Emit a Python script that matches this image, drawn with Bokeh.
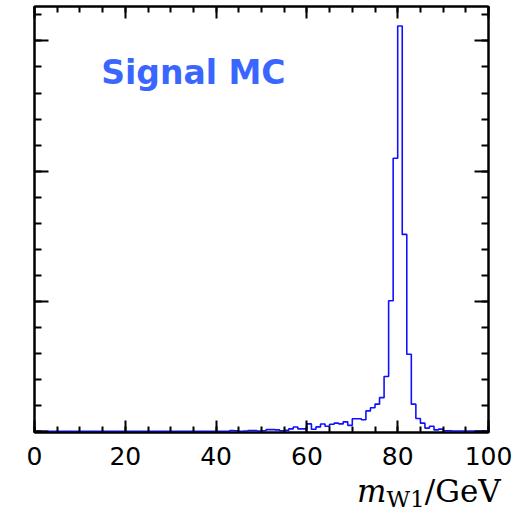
from bokeh.plotting import figure
from bokeh.models import Range1d, LinearAxis, SingleIntervalTicker, Label, Div
from bokeh.layouts import column
from bokeh.embed import file_html
from bokeh.resources import INLINE

# histogram bin edges (GeV) and counts per 1 GeV bin
bin_edges = list(range(0, 101))
counts = [0] * 43 + [
    5, 3, 0, 2, 5, 5, 2, 3, 12, 12,          # 43-52
    10, 4, 6, 18, 32, 18, 18, 56, 15, 33,    # 53-62
    55, 38, 54, 62, 56, 72, 45, 96, 96, 88,  # 63-72
    156, 180, 208, 258, 420, 1003, 2098, 3115, 1513, 592,  # 73-82
    208, 98, 62, 24, 38, 10, 16, 4, 4, 2,    # 83-92
    2, 2, 2, 2, 2, 2, 2,                     # 93-99
]
x_tick_values = [0, 20, 40, 60, 80, 100]
y_tick_values = [0, 1000, 2000, 3000]
title_text = "Signal MC"

p = figure(width=525, height=480, output_backend="svg", toolbar_location=None,
           x_range=Range1d(0, 100), y_range=Range1d(-10, 3265),
           min_border_left=34, min_border_top=6, min_border_right=37, min_border_bottom=48)
p.xgrid.visible = False
p.ygrid.visible = False
p.outline_line_color = "black"
p.outline_line_width = 2
p.background_fill_color = "white"
p.border_fill_color = "white"

ys = counts + [counts[-1]]
p.step(x=bin_edges, y=ys, mode="after", line_color="#1010ff", line_width=1.6)

def style(ax, interval, nminor, major, minor, tick_vals, labels):
    ax.ticker = SingleIntervalTicker(interval=interval, num_minor_ticks=nminor)
    ax.axis_line_width = 2
    ax.axis_line_color = "black"
    ax.major_tick_in = major
    ax.major_tick_out = 0
    ax.minor_tick_in = minor
    ax.minor_tick_out = 0
    ax.major_tick_line_width = 2
    ax.minor_tick_line_width = 2
    ax.major_tick_line_color = "black"
    ax.minor_tick_line_color = "black"
    if not labels:
        ax.major_label_overrides = {v: "" for v in tick_vals}
        ax.major_label_standoff = 0
        ax.major_label_text_font_size = "4px"

style(p.xaxis[0], 20, 4, 12, 6, x_tick_values, True)
p.xaxis[0].major_label_text_font = "DejaVu Sans"
p.xaxis[0].major_label_text_font_size = "25px"
p.xaxis[0].major_label_text_color = "black"
p.xaxis[0].major_label_standoff = 14
style(p.yaxis[0], 1000, 5, 14, 7, y_tick_values, False)

top = LinearAxis()
style(top, 20, 4, 12, 6, x_tick_values, False)
p.add_layout(top, "above")
right = LinearAxis()
style(right, 1000, 5, 14, 7, y_tick_values, False)
p.add_layout(right, "right")

p.add_layout(Label(x=14.7, y=2760, text=title_text, text_font="DejaVu Sans",
                   text_font_style="bold", text_font_size="33px", text_color="#3a66ff",
                   text_baseline="alphabetic"))

xlabel = Div(text='<i>m</i><span style="font-size:23px;vertical-align:-5px">W1</span>/GeV',
             width=525, height=38,
             styles={"font-family": "DejaVu Serif", "font-size": "31px", "line-height": "31px",
                     "color": "black", "padding-left": "352px", "margin-top": "-4px",
                     "white-space": "nowrap"})

layout = column(p, xlabel, spacing=0)
open("out.html", "w").write(file_html(layout, INLINE))
